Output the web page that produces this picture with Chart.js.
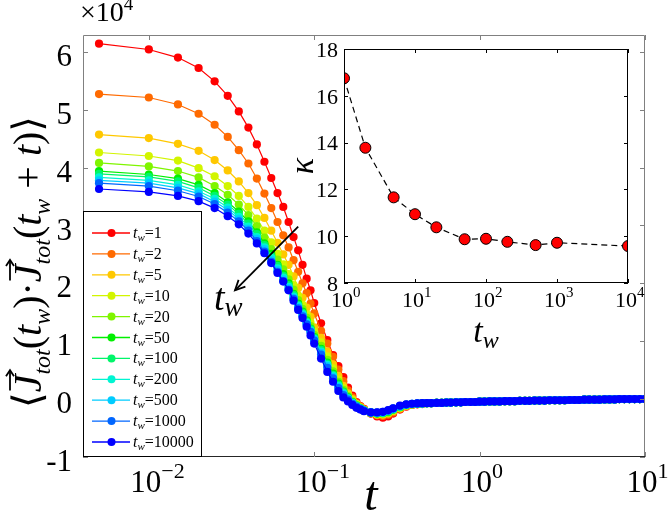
<!DOCTYPE html>
<html>
<head>
<meta charset="utf-8">
<script src="https://cdn.jsdelivr.net/npm/chart.js@4.4.1/dist/chart.umd.min.js"></script>
<style>
  html, body { margin: 0; padding: 0; background: #fff; }
  #wrap { position: relative; width: 668px; height: 515px; overflow: hidden; }
  #main { position: absolute; left: 0; top: 0; }
  #inset { position: absolute; left: 285px; top: 38px; }
</style>
</head>
<body>
<div id="wrap">
  <canvas id="main" width="668" height="515"></canvas>
  <canvas id="inset" width="360" height="320"></canvas>
</div>
<script>
// ---- data (correlation in units of 1e4) ----
const tHead = [0.005, 0.01, 0.015, 0.02, 0.025, 0.03, 0.035, 0.04, 0.045, 0.05,
  0.055, 0.06, 0.065, 0.07, 0.075, 0.08, 0.085, 0.09, 0.095, 0.1,
  0.11, 0.12, 0.13, 0.14, 0.15, 0.16, 0.17, 0.18, 0.19, 0.2,
  0.22, 0.24, 0.26, 0.28, 0.30, 0.33, 0.36, 0.39, 0.42, 0.45];

const corrTw1 = [6.14, 6.04, 5.90, 5.72, 5.49, 5.24, 4.97, 4.69, 4.40, 4.10,
  3.82, 3.56, 3.32, 3.06, 2.80, 2.57, 2.32, 2.08, 1.88, 1.66,
  1.31, 1.02, 0.76, 0.57, 0.38, 0.20, 0.06, -0.05, -0.12, -0.17,
  -0.25, -0.30, -0.32, -0.30, -0.25, -0.18, -0.13, -0.10, -0.09, -0.085];
const corrTw2 = [5.27, 5.21, 5.09, 4.93, 4.74, 4.53, 4.30, 4.07, 3.81, 3.55,
  3.30, 3.06, 2.83, 2.62, 2.40, 2.20, 2.00, 1.83, 1.65, 1.48,
  1.18, 0.96, 0.73, 0.51, 0.31, 0.15, 0.03, -0.07, -0.13, -0.18,
  -0.25, -0.28, -0.29, -0.27, -0.23, -0.17, -0.12, -0.10, -0.085, -0.08];
const corrTw5 = [4.57, 4.51, 4.41, 4.29, 4.13, 3.95, 3.76, 3.56, 3.35, 3.13,
  2.91, 2.70, 2.50, 2.32, 2.12, 1.92, 1.75, 1.58, 1.42, 1.24,
  1.06, 0.82, 0.60, 0.40, 0.23, 0.10, 0.00, -0.08, -0.14, -0.18,
  -0.24, -0.27, -0.27, -0.25, -0.21, -0.16, -0.12, -0.095, -0.085, -0.08];
const corrTw10 = [4.26, 4.20, 4.12, 3.99, 3.85, 3.68, 3.51, 3.32, 3.12, 2.91,
  2.71, 2.51, 2.33, 2.16, 1.97, 1.79, 1.63, 1.47, 1.32, 1.16,
  0.98, 0.74, 0.53, 0.34, 0.19, 0.07, -0.02, -0.09, -0.15, -0.19,
  -0.24, -0.26, -0.26, -0.24, -0.20, -0.15, -0.11, -0.09, -0.08, -0.075];
const corrTw20 = [4.08, 4.02, 3.94, 3.83, 3.68, 3.53, 3.36, 3.18, 2.99, 2.79,
  2.59, 2.41, 2.24, 2.07, 1.89, 1.71, 1.56, 1.41, 1.26, 1.11,
  0.92, 0.68, 0.48, 0.30, 0.16, 0.05, -0.04, -0.10, -0.16, -0.19,
  -0.24, -0.25, -0.25, -0.23, -0.19, -0.14, -0.11, -0.09, -0.08, -0.075];
const corrTw50 = [3.94, 3.88, 3.81, 3.70, 3.56, 3.40, 3.24, 3.07, 2.88, 2.69,
  2.51, 2.32, 2.16, 2.00, 1.82, 1.65, 1.51, 1.36, 1.22, 1.07,
  0.87, 0.63, 0.44, 0.27, 0.13, 0.03, -0.05, -0.11, -0.16, -0.20,
  -0.23, -0.25, -0.24, -0.22, -0.18, -0.14, -0.10, -0.085, -0.08, -0.075];
const corrTw100 = [3.89, 3.84, 3.76, 3.65, 3.51, 3.36, 3.20, 3.03, 2.85, 2.66,
  2.47, 2.30, 2.13, 1.97, 1.80, 1.63, 1.49, 1.34, 1.21, 1.06,
  0.85, 0.61, 0.42, 0.25, 0.12, 0.02, -0.06, -0.12, -0.16, -0.20,
  -0.23, -0.24, -0.24, -0.21, -0.18, -0.13, -0.10, -0.085, -0.08, -0.075];
const corrTw200 = [3.83, 3.78, 3.70, 3.59, 3.46, 3.31, 3.15, 2.98, 2.80, 2.62,
  2.44, 2.26, 2.10, 1.94, 1.77, 1.61, 1.47, 1.32, 1.19, 1.04,
  0.82, 0.59, 0.40, 0.23, 0.10, 0.01, -0.07, -0.12, -0.17, -0.20,
  -0.23, -0.24, -0.23, -0.21, -0.17, -0.13, -0.10, -0.085, -0.08, -0.075];
const corrTw500 = [3.78, 3.73, 3.65, 3.55, 3.41, 3.27, 3.11, 2.94, 2.77, 2.59,
  2.40, 2.23, 2.07, 1.92, 1.75, 1.59, 1.45, 1.30, 1.17, 1.03,
  0.80, 0.57, 0.38, 0.21, 0.09, 0.00, -0.07, -0.13, -0.17, -0.20,
  -0.23, -0.24, -0.23, -0.20, -0.17, -0.12, -0.095, -0.08, -0.075, -0.075];
const corrTw1000 = [3.73, 3.68, 3.60, 3.50, 3.37, 3.22, 3.07, 2.91, 2.73, 2.55,
  2.37, 2.20, 2.04, 1.89, 1.73, 1.57, 1.43, 1.29, 1.16, 1.01,
  0.77, 0.54, 0.36, 0.19, 0.07, -0.01, -0.08, -0.13, -0.17, -0.20,
  -0.23, -0.23, -0.22, -0.20, -0.16, -0.12, -0.095, -0.08, -0.075, -0.075];
const corrTw10000 = [3.63, 3.58, 3.51, 3.42, 3.30, 3.16, 3.02, 2.86, 2.69, 2.52,
  2.35, 2.18, 2.03, 1.88, 1.70, 1.54, 1.40, 1.25, 1.10, 0.96,
  0.70, 0.47, 0.30, 0.14, 0.03, -0.04, -0.10, -0.15, -0.18, -0.21,
  -0.23, -0.23, -0.22, -0.19, -0.16, -0.11, -0.09, -0.08, -0.075, -0.07];

// beyond t~0.45 all curves sit on top of each other
const tTail = [0.48, 0.51, 0.55, 0.59, 0.63, 0.67, 0.72, 0.77, 0.82, 0.88,
  0.94, 1.0, 1.07, 1.15, 1.23, 1.32, 1.42, 1.52, 1.63, 1.75,
  1.88, 2.0, 2.15, 2.3, 2.47, 2.65, 2.85, 3.05, 3.27, 3.5,
  3.75, 4.0, 4.3, 4.6, 4.95, 5.3, 5.7, 6.1, 6.55, 7.0,
  7.5, 8.05, 8.65, 9.3, 10.0];
const corrTail = [-0.07, -0.07, -0.065, -0.065, -0.06, -0.06, -0.055, -0.055, -0.05, -0.05,
  -0.05, -0.045, -0.045, -0.04, -0.04, -0.04, -0.035, -0.035, -0.035, -0.03,
  -0.03, -0.03, -0.025, -0.025, -0.025, -0.02, -0.02, -0.02, -0.02, -0.015,
  -0.015, -0.015, -0.01, -0.01, -0.01, -0.01, -0.005, -0.005, -0.005, 0,
  0, 0, 0, 0, 0];

const waitTimes = ['1', '2', '5', '10', '20', '50', '100', '200', '500', '1000', '10000'];
const seriesColors = ['#ff0000', '#ff6a00', '#ffc800', '#d2f500', '#7ff500', '#00f000',
  '#00f56a', '#00f5d2', '#00ccff', '#0066ff', '#0000ff'];

const yTicksMain = [-1, 0, 1, 2, 3, 4, 5, 6];
const xTickExpMain = [-2, -1, 0, 1];

// inset: kappa vs t_w
const kappaTw = [1, 2, 5, 10, 20, 50, 100, 200, 500, 1000, 10000];
const kappaValues = [16.75, 13.78, 11.66, 10.94, 10.38, 9.87, 9.89, 9.76, 9.62, 9.72, 9.58];
const yTicksInset = [8, 10, 12, 14, 16, 18];
const xTickExpInset = [0, 1, 2, 3, 4];

const SERIF = '"Liberation Serif", "DejaVu Serif", serif';

// draw a row of text pieces [{s, font, dy}] starting at x (or centered)
function drawPieces(ctx, pieces, x, y, align) {
  let w = 0;
  pieces.forEach(p => { ctx.font = p.font; p.w = ctx.measureText(p.s).width; w += p.w; });
  let cx = align === 'center' ? x - w / 2 : (align === 'right' ? x - w : x);
  ctx.textAlign = 'left';
  ctx.textBaseline = 'alphabetic';
  pieces.forEach(p => {
    ctx.font = p.font;
    ctx.fillText(p.s, cx, y + (p.dy || 0));
    if (p.arrow) {
      const ax0 = cx + p.w * 0.1, ax1 = cx + p.w * 1.25, ay = y - p.arrow;
      ctx.save();
      ctx.strokeStyle = '#000';
      ctx.lineWidth = 1.8;
      ctx.beginPath(); ctx.moveTo(ax0, ay); ctx.lineTo(ax1, ay); ctx.stroke();
      ctx.beginPath(); ctx.moveTo(ax1 - 6, ay - 4); ctx.lineTo(ax1, ay); ctx.lineTo(ax1 - 6, ay + 4); ctx.stroke();
      ctx.restore();
    }
    cx += p.w;
  });
  return w;
}

function supLabel(ctx, base, exp, px, baseY, big, small, dx) {
  ctx.font = big + 'px ' + SERIF;
  const wb = ctx.measureText(base).width;
  const x0 = px + dx - wb / 2;
  drawPieces(ctx, [
    { s: base, font: big + 'px ' + SERIF },
    { s: exp, font: small + 'px ' + SERIF, dy: -Math.round(big * 0.45) }
  ], x0, baseY, 'left');
}

const mainDecor = {
  id: 'mainDecor',
  afterDatasetsDraw(chart) {
    const { ctx, chartArea: a, scales: { x, y } } = chart;
    ctx.save();
    ctx.fillStyle = '#000';
    ctx.strokeStyle = '#000';

    // axes box
    ctx.lineWidth = 1;
    ctx.strokeStyle = '#808080';
    ctx.beginPath();
    ctx.moveTo(a.left + 0.5, a.bottom);
    ctx.lineTo(a.left + 0.5, a.top + 0.5);
    ctx.lineTo(a.right - 0.5, a.top + 0.5);
    ctx.lineTo(a.right - 0.5, a.bottom);
    ctx.stroke();
    ctx.strokeStyle = '#262626';
    ctx.beginPath();
    ctx.moveTo(a.left, a.bottom - 0.5);
    ctx.lineTo(a.right, a.bottom - 0.5);
    ctx.stroke();

    // inward ticks
    ctx.strokeStyle = '#808080';
    ctx.beginPath();
    xTickExpMain.forEach(e => {
      const px = Math.round(x.getPixelForValue(Math.pow(10, e))) + 0.5;
      ctx.moveTo(px, a.bottom); ctx.lineTo(px, a.bottom - 5);
      ctx.moveTo(px, a.top); ctx.lineTo(px, a.top + 5);
    });
    yTicksMain.forEach(v => {
      const py = Math.round(y.getPixelForValue(v)) + 0.5;
      ctx.moveTo(a.left, py); ctx.lineTo(a.left + 5, py);
      ctx.moveTo(a.right, py); ctx.lineTo(a.right - 5, py);
    });
    ctx.stroke();
    ctx.strokeStyle = '#000';

    // tick labels
    ctx.fillStyle = '#000';
    ctx.font = '31px ' + SERIF;
    ctx.textAlign = 'right';
    ctx.textBaseline = 'middle';
    yTicksMain.forEach(v => {
      ctx.fillText(String(v), a.left - 11, y.getPixelForValue(v) + 6);
    });
    xTickExpMain.forEach(e => {
      const px = x.getPixelForValue(Math.pow(10, e));
      supLabel(ctx, '10', e < 0 ? '\u2212' + (-e) : String(e), px, 492, 31, 22, -3);
    });

    // multiplier
    drawPieces(ctx, [
      { s: '\u00d710', font: '28px ' + SERIF },
      { s: '4', font: '19px ' + SERIF, dy: -11 }
    ], 80, 21, 'left');

    // x label
    ctx.font = 'italic 48px ' + SERIF;
    ctx.textAlign = 'center';
    ctx.textBaseline = 'alphabetic';
    ctx.fillText('t', 371, 510);

    // y label (rotated)
    ctx.save();
    ctx.translate(41, 262);
    ctx.rotate(-Math.PI / 2);
    const big = '40px ' + SERIF, bigI = 'italic 40px ' + SERIF, sub = 'italic 24px ' + SERIF;
    drawPieces(ctx, [
      { s: '\u27e8', font: big },
      { s: 'J', font: bigI, arrow: 31 },
      { s: 'tot', font: sub, dy: 9 },
      { s: '(', font: big },
      { s: 't', font: bigI },
      { s: 'w', font: sub, dy: 9 },
      { s: ')', font: big },
      { s: '\u00b7', font: big },
      { s: 'J', font: bigI, arrow: 31 },
      { s: 'tot', font: sub, dy: 9 },
      { s: '(', font: big },
      { s: 't', font: bigI },
      { s: 'w', font: sub, dy: 9 },
      { s: ' + ', font: big },
      { s: 't', font: bigI },
      { s: ')', font: big },
      { s: '\u27e9', font: big }
    ], 0, 0, 'center');
    ctx.restore();

    // arrow "increasing t_w"
    const x0 = x.getPixelForValue(0.080), y0 = y.getPixelForValue(2.98);
    const x1 = x.getPixelForValue(0.0332), y1 = y.getPixelForValue(1.88);
    ctx.strokeStyle = '#000';
    ctx.lineWidth = 1.8;
    ctx.beginPath(); ctx.moveTo(x0, y0); ctx.lineTo(x1, y1); ctx.stroke();
    const ang = Math.atan2(y1 - y0, x1 - x0);
    ctx.beginPath();
    ctx.moveTo(x1 - 11 * Math.cos(ang - 0.45), y1 - 11 * Math.sin(ang - 0.45));
    ctx.lineTo(x1, y1);
    ctx.lineTo(x1 - 11 * Math.cos(ang + 0.45), y1 - 11 * Math.sin(ang + 0.45));
    ctx.stroke();
    drawPieces(ctx, [
      { s: 't', font: 'italic 38px ' + SERIF },
      { s: 'w', font: 'italic 27px ' + SERIF, dy: 6 }
    ], x1 - 21, y1 + 20, 'left');

    // legend
    const lx = a.left + 0.5, ly = 211.5, lw = 118, lh = a.bottom - 0.5 - ly;
    ctx.fillStyle = '#fff';
    ctx.fillRect(lx, ly, lw, lh);
    ctx.strokeStyle = '#000';
    ctx.lineWidth = 1;
    ctx.strokeRect(lx, ly, lw, lh);
    waitTimes.forEach((tw, i) => {
      const ey = 233 + i * 20.9;
      ctx.strokeStyle = seriesColors[i];
      ctx.lineWidth = 1.3;
      ctx.beginPath(); ctx.moveTo(92, ey); ctx.lineTo(130, ey); ctx.stroke();
      ctx.fillStyle = seriesColors[i];
      ctx.beginPath(); ctx.arc(111.5, ey, 4, 0, Math.PI * 2); ctx.fill();
      ctx.fillStyle = '#000';
      drawPieces(ctx, [
        { s: 't', font: 'italic 16px ' + SERIF },
        { s: 'w', font: 'italic 11px ' + SERIF, dy: 3 },
        { s: '=' + tw, font: '16px ' + SERIF }
      ], 133, ey + 5, 'left');
    });
    ctx.restore();
  }
};

const mainSets = [corrTw1, corrTw2, corrTw5, corrTw10, corrTw20, corrTw50,
  corrTw100, corrTw200, corrTw500, corrTw1000, corrTw10000];

const datasets = mainSets.map((vals, i) => ({
  label: 't_w=' + waitTimes[i],
  data: tHead.map((t, k) => ({ x: t, y: vals[k] }))
    .concat(tTail.map((t, k) => ({ x: t, y: corrTail[k] }))),
  borderColor: seriesColors[i],
  backgroundColor: seriesColors[i],
  pointBackgroundColor: seriesColors[i],
  pointBorderWidth: 0,
  pointRadius: 4.1,
  borderWidth: 1.2,
  order: mainSets.length - 1 - i
}));

new Chart(document.getElementById('main').getContext('2d'), {
  type: 'line',
  data: { datasets },
  options: {
    responsive: false,
    animation: false,
    layout: { padding: { left: 83, right: 23, top: 35, bottom: 58 } },
    scales: {
      x: { type: 'logarithmic', min: 0.004, max: 10, display: false },
      y: { type: 'linear', min: -1, max: 6.29, display: false }
    },
    plugins: { legend: { display: false }, tooltip: { enabled: false } },
    elements: { line: { tension: 0 } }
  },
  plugins: [mainDecor]
});

const insetDecor = {
  id: 'insetDecor',
  afterDatasetsDraw(chart) {
    const { ctx, chartArea: a, scales: { x, y } } = chart;
    ctx.save();
    ctx.strokeStyle = '#000';
    ctx.lineWidth = 1;
    ctx.strokeRect(a.left + 0.5, a.top + 0.5, a.right - a.left - 1, a.bottom - a.top - 1);
    ctx.beginPath();
    xTickExpInset.forEach(e => {
      const px = Math.round(x.getPixelForValue(Math.pow(10, e))) + 0.5;
      ctx.moveTo(px, a.bottom); ctx.lineTo(px, a.bottom - 4);
      ctx.moveTo(px, a.top); ctx.lineTo(px, a.top + 4);
    });
    yTicksInset.forEach(v => {
      const py = Math.round(y.getPixelForValue(v)) + 0.5;
      ctx.moveTo(a.left, py); ctx.lineTo(a.left + 4, py);
      ctx.moveTo(a.right, py); ctx.lineTo(a.right - 4, py);
    });
    ctx.stroke();

    ctx.fillStyle = '#000';
    ctx.font = '22px ' + SERIF;
    ctx.textAlign = 'right';
    ctx.textBaseline = 'middle';
    yTicksInset.forEach(v => ctx.fillText(String(v), a.left - 6, y.getPixelForValue(v) + 2));
    xTickExpInset.forEach(e => {
      supLabel(ctx, '10', String(e), x.getPixelForValue(Math.pow(10, e)), 269, 22, 15, -2);
    });

    drawPieces(ctx, [
      { s: 't', font: 'italic 34px ' + SERIF },
      { s: 'w', font: 'italic 24px ' + SERIF, dy: 6 }
    ], (a.left + a.right) / 2, 304, 'center');

    ctx.save();
    ctx.translate(28, (a.top + a.bottom) / 2);
    ctx.rotate(-Math.PI / 2);
    ctx.font = 'italic 34px ' + SERIF;
    ctx.textAlign = 'center';
    ctx.textBaseline = 'alphabetic';
    ctx.fillText('\u03ba', 0, 0);
    ctx.restore();
    ctx.restore();
  }
};

new Chart(document.getElementById('inset').getContext('2d'), {
  type: 'line',
  data: {
    datasets: [{
      label: 'kappa',
      data: kappaTw.map((t, i) => ({ x: t, y: kappaValues[i] })),
      borderColor: '#000',
      borderWidth: 1.2,
      borderDash: [6, 4],
      pointRadius: 5.5,
      pointBackgroundColor: '#ff0000',
      pointBorderColor: '#000',
      pointBorderWidth: 1
    }]
  },
  options: {
    responsive: false,
    animation: false,
    layout: { padding: { left: 59, right: 17, top: 11, bottom: 75 } },
    scales: {
      x: { type: 'logarithmic', min: 1, max: 10000, display: false },
      y: { type: 'linear', min: 8, max: 18, display: false }
    },
    plugins: { legend: { display: false }, tooltip: { enabled: false } },
    elements: { line: { tension: 0 } }
  },
  plugins: [insetDecor]
});
</script>
</body>
</html>
